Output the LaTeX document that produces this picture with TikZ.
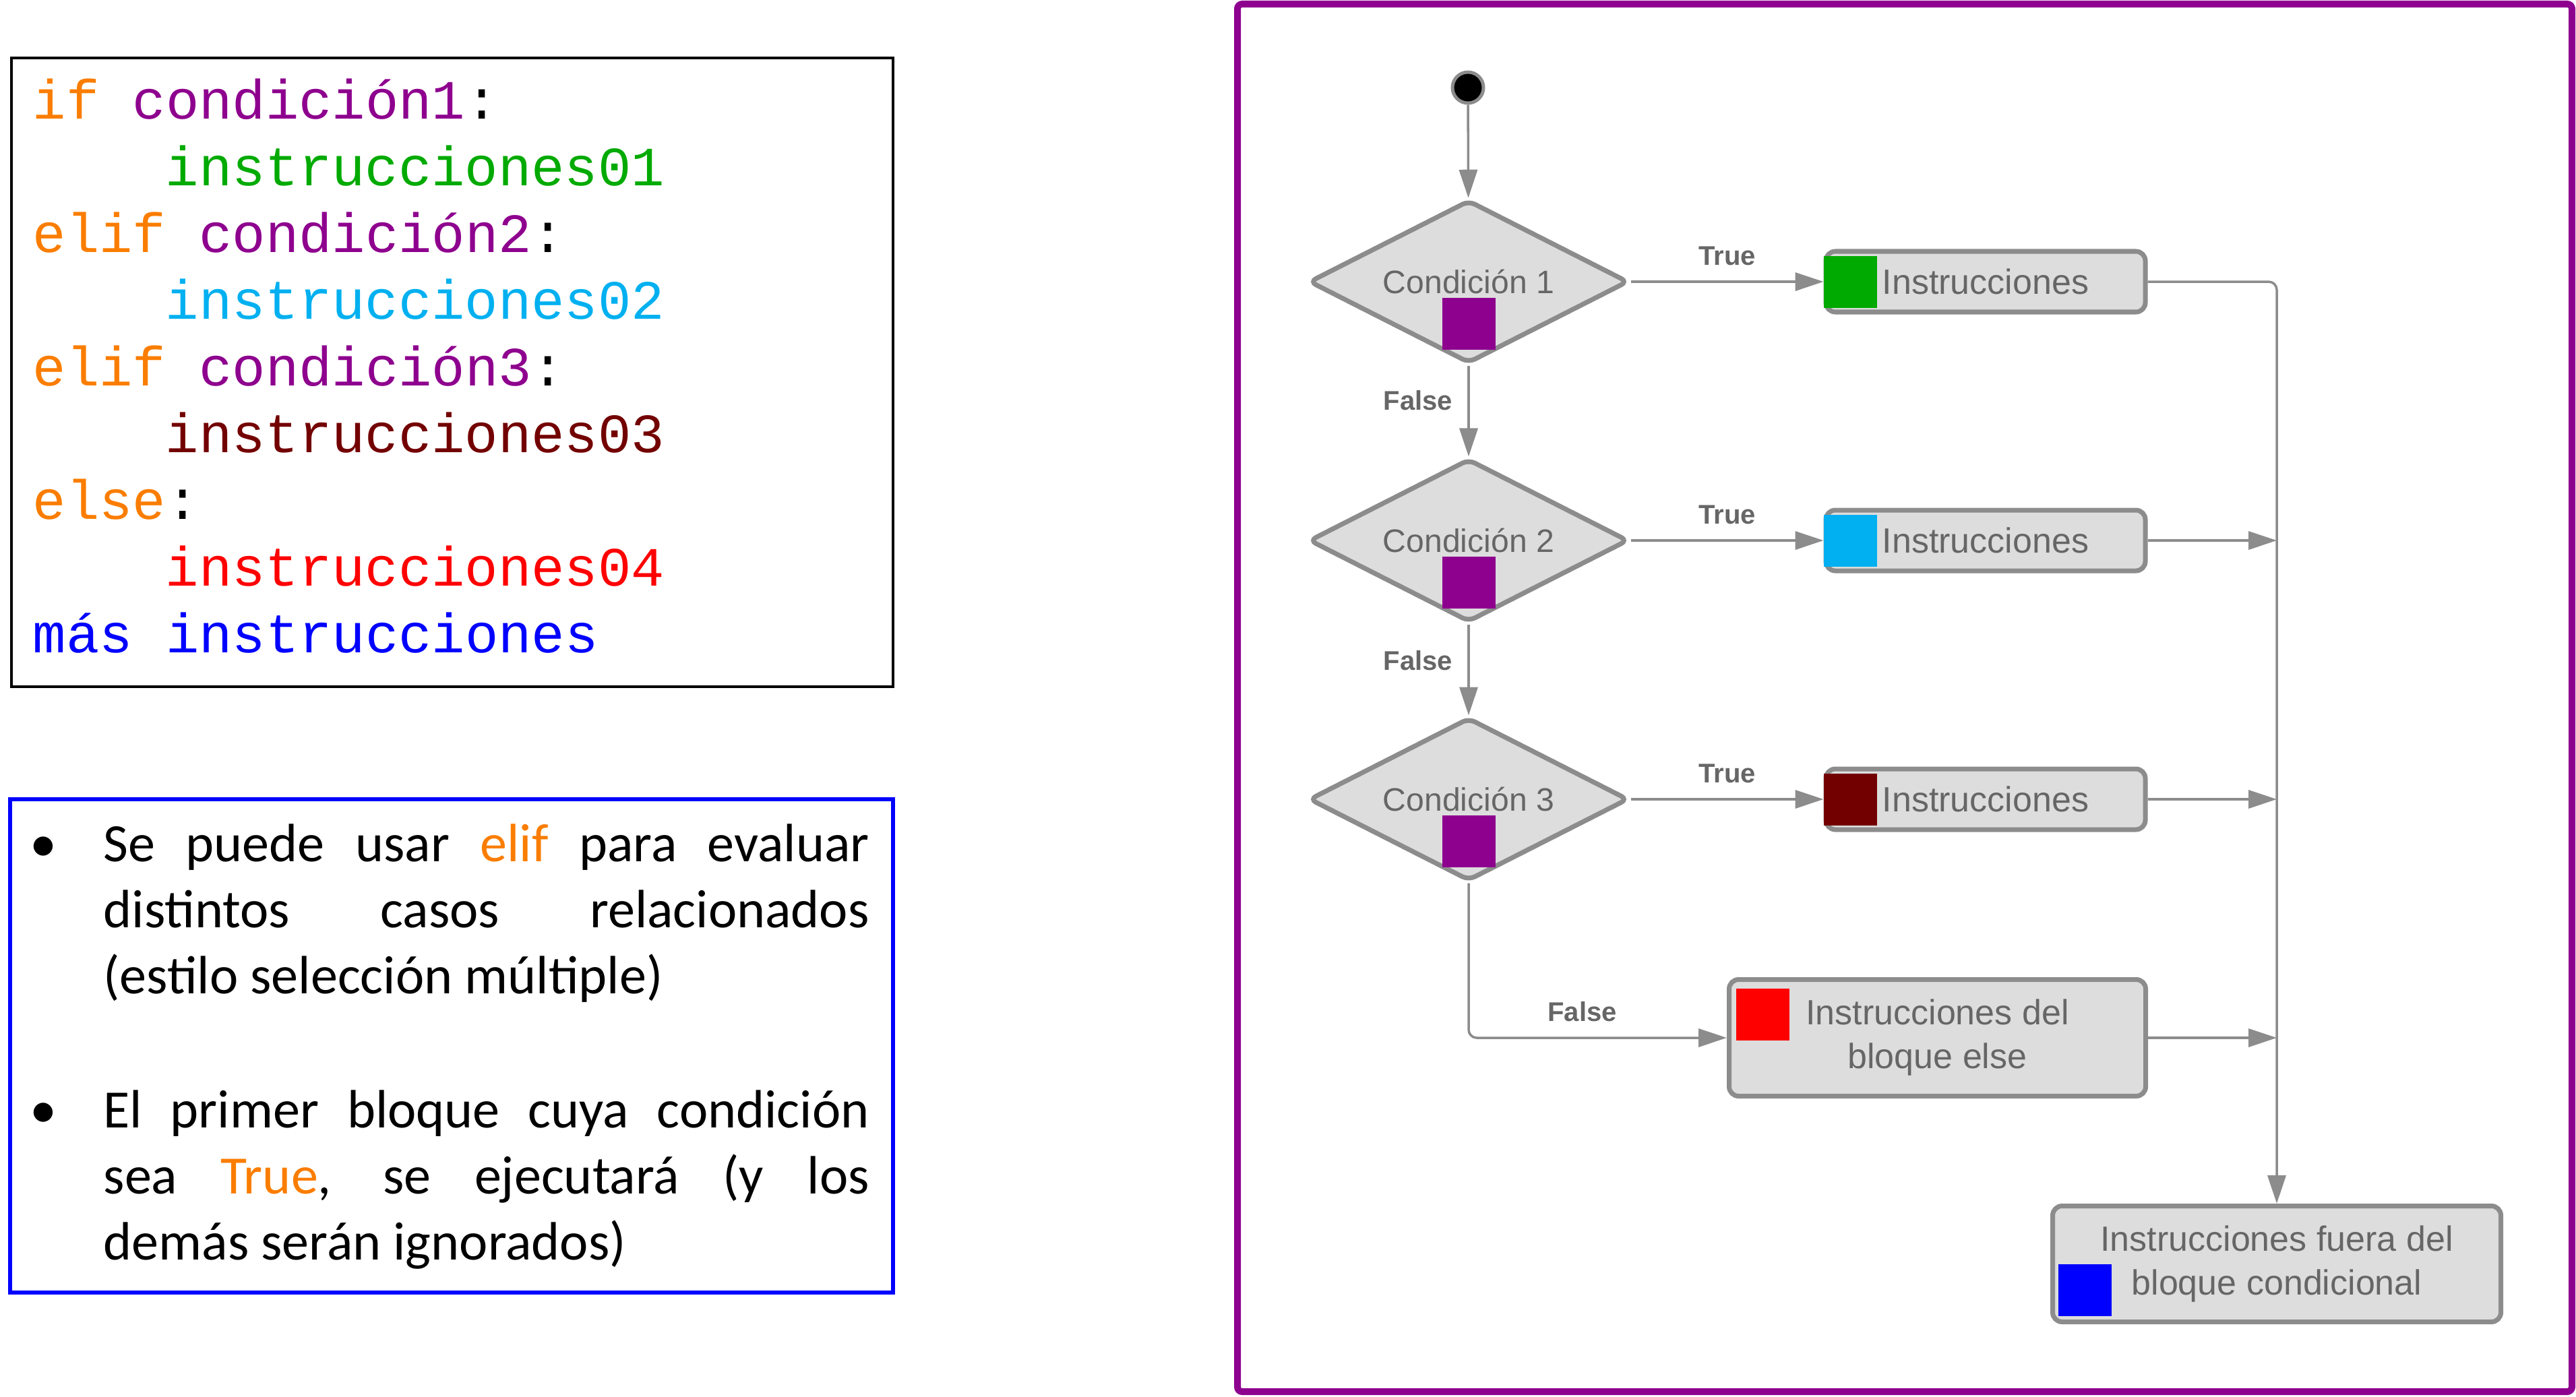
\documentclass[tikz,border=0pt]{standalone}
\usepackage{fontspec}
\setmainfont{Liberation Sans}
\newfontfamily\codefont{Liberation Mono}
\newfontfamily\bulletfont{Carlito}
\usepackage{tikz}
\usetikzlibrary{positioning}
\usetikzlibrary{shapes.geometric}
\usetikzlibrary{arrows.meta}
\definecolor{kworange}{RGB}{250,125,0}
\definecolor{condpurple}{RGB}{142,0,142}
\definecolor{insgreen}{RGB}{0,170,0}
\definecolor{inscyan}{RGB}{0,176,240}
\definecolor{insbrown}{RGB}{115,0,0}
\definecolor{insred}{RGB}{255,0,0}
\definecolor{moreblue}{RGB}{0,0,255}
\definecolor{boxfill}{RGB}{221,221,221}
\definecolor{boxline}{RGB}{140,140,140}
\definecolor{labelgray}{RGB}{102,102,102}

\begin{document}
\begin{tikzpicture}[
	code/.style={anchor=base west, inner sep=0, font=\codefont\fontsize{23.4}{28}\selectfont},
	para/.style={anchor=base west, inner sep=0, text width=11.36cm, align=justify, font=\bulletfont\fontsize{22.8}{27.9}\selectfont},
	dot/.style={anchor=base, inner sep=0, font=\bulletfont\fontsize{22.8}{27.9}\selectfont},
	startdot/.style={circle, fill=black, draw=boxline, line width=1.4pt, minimum size=0.46cm, inner sep=0},
	cond/.style={diamond, aspect=2, draw=boxline, fill=boxfill, line width=2pt, rounded corners=0.1cm, minimum width=4.74cm, minimum height=2.42cm, inner sep=0, text=labelgray, font=\fontsize{13.7}{16}\selectfont},
	instr/.style={rectangle, rounded corners=0.14cm, draw=boxline, fill=boxfill, line width=2pt, minimum width=4.74cm, minimum height=0.90cm, inner sep=0, text=labelgray, align=center, font=\fontsize{14.8}{18.5}\selectfont},
	colsq/.style={rectangle, inner sep=0, minimum width=0.79cm, minimum height=0.77cm},
	flow/.style={draw=boxline, line width=1pt, -{Triangle[length=0.42cm, width=0.27cm]}},
	lbl/.style={inner sep=0, text=labelgray, font=\bfseries\fontsize{11.4}{13}\selectfont}
	]
	\useasboundingbox (0,0) rectangle (38.22,-20.72);

	\draw[line width=1pt] (0.17,-0.86) rectangle (13.25,-10.19);
	\node[code] (c1) at (0.48,-1.76) {\textcolor{kworange}{if} \textcolor{condpurple}{condición1}:};
	\node[code] (c2) at (2.45,-2.75) {\textcolor{insgreen}{instrucciones01}};
	\node[code] (c3) at (0.48,-3.74) {\textcolor{kworange}{elif} \textcolor{condpurple}{condición2}:};
	\node[code] (c4) at (2.45,-4.73) {\textcolor{inscyan}{instrucciones02}};
	\node[code] (c5) at (0.48,-5.72) {\textcolor{kworange}{elif} \textcolor{condpurple}{condición3}:};
	\node[code] (c6) at (2.45,-6.71) {\textcolor{insbrown}{instrucciones03}};
	\node[code] (c7) at (0.48,-7.70) {\textcolor{kworange}{else}:};
	\node[code] (c8) at (2.45,-8.69) {\textcolor{insred}{instrucciones04}};
	\node[code] (c9) at (0.48,-9.68) {\textcolor{moreblue}{más instrucciones}};

	\draw[moreblue, line width=1.7pt] (0.15,-11.86) rectangle (13.25,-19.18);
	\node[dot] (b1) at (0.64,-12.78) {•};
	\node[para] (p1) at (1.53,-12.78) {Se puede usar \textcolor{kworange}{elif} para evaluar\linebreak distintos casos relacionados\linebreak (estilo selección múltiple)};
	\node[dot] (b2) at (0.64,-16.73) {•};
	\node[para] (p2) at (1.53,-16.73) {El primer bloque cuya condición\linebreak sea \textcolor{kworange}{True}, se ejecutará (y los\linebreak demás serán ignorados)};

	\draw[condpurple, line width=2.85pt, rounded corners=2pt] (18.36,-0.06) rectangle (38.16,-20.65);

	\node[startdot] (ini) at (21.78,-1.30) {};
	\node[cond] (d1) at (21.79,-4.18) {Condición 1};
	\node[cond] (d2) at (21.79,-8.02) {Condición 2};
	\node[cond] (d3) at (21.79,-11.86) {Condición 3};
	\node[colsq, fill=condpurple] (s1) at ([yshift=-0.62cm]d1.center) {};
	\node[colsq, fill=condpurple] (s2) at ([yshift=-0.62cm]d2.center) {};
	\node[colsq, fill=condpurple] (s3) at ([yshift=-0.62cm]d3.center) {};

	\node[instr] (i1) at (29.46,-4.18) {Instrucciones};
	\node[instr] (i2) at (29.46,-8.02) {Instrucciones};
	\node[instr] (i3) at (29.46,-11.86) {Instrucciones};
	\node[instr, minimum width=6.18cm, minimum height=1.73cm] (ie) at (28.745,-15.40) {Instrucciones del\\bloque else};
	\node[instr, minimum width=6.65cm, minimum height=1.72cm] (fin) at (33.78,-18.755) {Instrucciones fuera del\\bloque condicional};
	\node[colsq, fill=insgreen, anchor=west] (q1) at (i1.west) {};
	\node[colsq, fill=inscyan, anchor=west] (q2) at (i2.west) {};
	\node[colsq, fill=insbrown, anchor=west] (q3) at (i3.west) {};
	\node[colsq, fill=insred, anchor=north west] (qe) at ([shift={(0.13,-0.16)}]ie.north west) {};
	\node[colsq, fill=moreblue, anchor=south west] (qf) at ([shift={(0.11,0.11)}]fin.south west) {};

	\draw[flow] (ini) -- (d1);
	\draw[flow] (d1) -- node[lbl, left=0.22cm, pos=0.38] {False} (d2);
	\draw[flow] (d2) -- node[lbl, left=0.22cm, pos=0.40] {False} (d3);
	\draw[flow] (d1) -- node[lbl, above=0.22cm] {True} (i1);
	\draw[flow] (d2) -- node[lbl, above=0.22cm] {True} (i2);
	\draw[flow] (d3) -- node[lbl, above=0.22cm] {True} (i3);
	\draw[flow, rounded corners=0.12cm] (d3) |- node[lbl, above=0.22cm, pos=0.72] {False} (ie);
	\draw[flow, rounded corners=0.12cm] (i1) -| (fin);
	\draw[flow] (i2) -- (i2 -| fin);
	\draw[flow] (i3) -- (i3 -| fin);
	\draw[flow] (ie) -- (ie -| fin);
\end{tikzpicture}
\end{document}
